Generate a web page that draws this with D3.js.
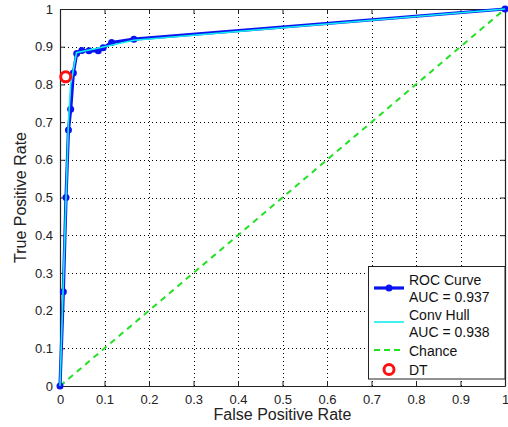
<!DOCTYPE html>
<html>
<head>
<meta charset="utf-8">
<script src="https://cdn.jsdelivr.net/npm/d3@7/dist/d3.min.js"></script>
<style>
  html, body { margin: 0; padding: 0; background: #fff; }
  svg { display: block; font-family: "Liberation Sans", Arial, sans-serif; }
</style>
</head>
<body>
<svg id="chart" width="508" height="427"></svg>
<script>
// ROC curve operating points (false positive rate, true positive rate)
const rocFpr = [0, 0.0075, 0.0135, 0.019, 0.024, 0.030, 0.0375, 0.049, 0.065, 0.086, 0.097, 0.116, 0.166, 1];
const rocTpr = [0, 0.25, 0.50, 0.679, 0.734, 0.83, 0.882, 0.890, 0.889, 0.889, 0.897, 0.911, 0.920, 1];

// Convex hull of the ROC points
const hullFpr = [0, 0.019, 0.024, 0.037, 0.097, 0.166, 1];
const hullTpr = [0, 0.70, 0.80, 0.884, 0.899, 0.917, 1];

// Chance diagonal
const chanceFpr = [0, 1];
const chanceTpr = [0, 1];

// Decision tree operating point
const dtPoint = [0.0128, 0.82];

const xTicks = [0, 0.1, 0.2, 0.3, 0.4, 0.5, 0.6, 0.7, 0.8, 0.9, 1];
const yTicks = [0, 0.1, 0.2, 0.3, 0.4, 0.5, 0.6, 0.7, 0.8, 0.9, 1];

const legendLabels = [["ROC Curve", "AUC = 0.937"], ["Conv Hull", "AUC = 0.938"], ["Chance"], ["DT"]];

const svg = d3.select("#chart");
const plotL = 60, plotR = 505, plotT = 9, plotB = 386;

const x = d3.scaleLinear().domain([0, 1]).range([plotL, plotR]);
const y = d3.scaleLinear().domain([0, 1]).range([plotB, plotT]);

const fmt = d => d === 0 ? "0" : d === 1 ? "1" : d3.format(".1f")(d);

// grid
const grid = svg.append("g").attr("stroke", "#000").attr("stroke-width", 1)
  .attr("stroke-dasharray", "1,3").attr("shape-rendering", "crispEdges");
xTicks.slice(1, -1).forEach(t => grid.append("line")
  .attr("x1", Math.round(x(t)) + 0.5).attr("x2", Math.round(x(t)) + 0.5)
  .attr("y1", plotT).attr("y2", plotB));
yTicks.slice(1, -1).forEach(t => grid.append("line")
  .attr("y1", Math.round(y(t)) + 0.5).attr("y2", Math.round(y(t)) + 0.5)
  .attr("x1", plotL).attr("x2", plotR));

// axes
const xAxis = d3.axisBottom(x).tickValues(xTicks).tickFormat(fmt).tickSizeInner(-5).tickSizeOuter(0).tickPadding(9);
const yAxis = d3.axisLeft(y).tickValues(yTicks).tickFormat(fmt).tickSizeInner(-5).tickSizeOuter(0).tickPadding(7);
const xTop = d3.axisTop(x).tickValues(xTicks).tickFormat("").tickSizeInner(-5).tickSizeOuter(0);
const yRight = d3.axisRight(y).tickValues(yTicks).tickFormat("").tickSizeInner(-5).tickSizeOuter(0);

function styleAxis(g) {
  g.selectAll("path, line").attr("stroke", "#222");
  g.select(".domain").attr("stroke-width", 1.2);
  g.selectAll("text").attr("fill", "#222").style("font-size", "13px")
    .style("font-family", "'Liberation Sans', Arial, sans-serif");
}
svg.append("g").attr("transform", `translate(0,${plotB})`).call(xAxis).call(styleAxis);
svg.append("g").attr("transform", `translate(${plotL},0)`).call(yAxis).call(styleAxis);
svg.append("g").attr("transform", `translate(0,${plotT})`).call(xTop).call(styleAxis);
svg.append("g").attr("transform", `translate(${plotR},0)`).call(yRight).call(styleAxis);

const line = d3.line().x(d => x(d[0])).y(d => y(d[1]));

// chance diagonal
svg.append("path").datum(d3.zip(chanceFpr, chanceTpr)).attr("d", line)
  .attr("fill", "none").attr("stroke", "#22e022").attr("stroke-width", 2).attr("stroke-dasharray", "6,5");

// ROC curve with markers
const roc = d3.zip(rocFpr, rocTpr);
svg.append("path").datum(roc).attr("d", line)
  .attr("fill", "none").attr("stroke", "#0a14f0").attr("stroke-width", 3.2);
svg.append("g").selectAll("circle").data(roc).join("circle")
  .attr("cx", d => x(d[0])).attr("cy", d => y(d[1])).attr("r", 3.5).attr("fill", "#0a14f0");

// convex hull
svg.append("path").datum(d3.zip(hullFpr, hullTpr)).attr("d", line)
  .attr("fill", "none").attr("stroke", "#11eeee").attr("stroke-width", 1.6);

// DT point
svg.append("circle").attr("cx", x(dtPoint[0])).attr("cy", y(dtPoint[1])).attr("r", 5)
  .attr("fill", "#fff").attr("stroke", "#ff1010").attr("stroke-width", 3);

// axis titles
svg.append("text").attr("x", (plotL + plotR) / 2).attr("y", 420).attr("text-anchor", "middle")
  .style("font-size", "16px").attr("fill", "#222").text("False Positive Rate");
svg.append("text").attr("transform", `translate(26,${(plotT + plotB) / 2}) rotate(-90)`)
  .attr("text-anchor", "middle").style("font-size", "16px").attr("fill", "#222").text("True Positive Rate");

// legend
const lg = svg.append("g");
lg.append("rect").attr("x", 368.5).attr("y", 266.5).attr("width", 136.5).attr("height", 112.5)
  .attr("fill", "#fff").attr("stroke", "#222").attr("stroke-width", 1);
const lx0 = 374, lx1 = 404, tx = 409;
const textYs = [[285, 301.5], [319.5, 336.5], [355.5], [375]];
const sampleYs = [288, 322, 350, 369.5];
legendLabels.forEach((lines, i) => {
  lines.forEach((t, j) => lg.append("text").attr("x", tx).attr("y", textYs[i][j])
    .style("font-size", "14px").attr("fill", "#111").text(t));
});
lg.append("line").attr("x1", lx0).attr("x2", lx1).attr("y1", sampleYs[0]).attr("y2", sampleYs[0])
  .attr("stroke", "#0a14f0").attr("stroke-width", 3.2);
lg.append("circle").attr("cx", (lx0 + lx1) / 2).attr("cy", sampleYs[0]).attr("r", 3.5).attr("fill", "#0a14f0");
lg.append("line").attr("x1", lx0).attr("x2", lx1).attr("y1", sampleYs[1]).attr("y2", sampleYs[1])
  .attr("stroke", "#11eeee").attr("stroke-width", 1.6);
lg.append("line").attr("x1", lx0).attr("x2", lx1).attr("y1", sampleYs[2]).attr("y2", sampleYs[2])
  .attr("stroke", "#22e022").attr("stroke-width", 2).attr("stroke-dasharray", "6,4");
lg.append("circle").attr("cx", (lx0 + lx1) / 2).attr("cy", sampleYs[3]).attr("r", 5)
  .attr("fill", "#fff").attr("stroke", "#ff1010").attr("stroke-width", 3);
</script>
</body>
</html>
